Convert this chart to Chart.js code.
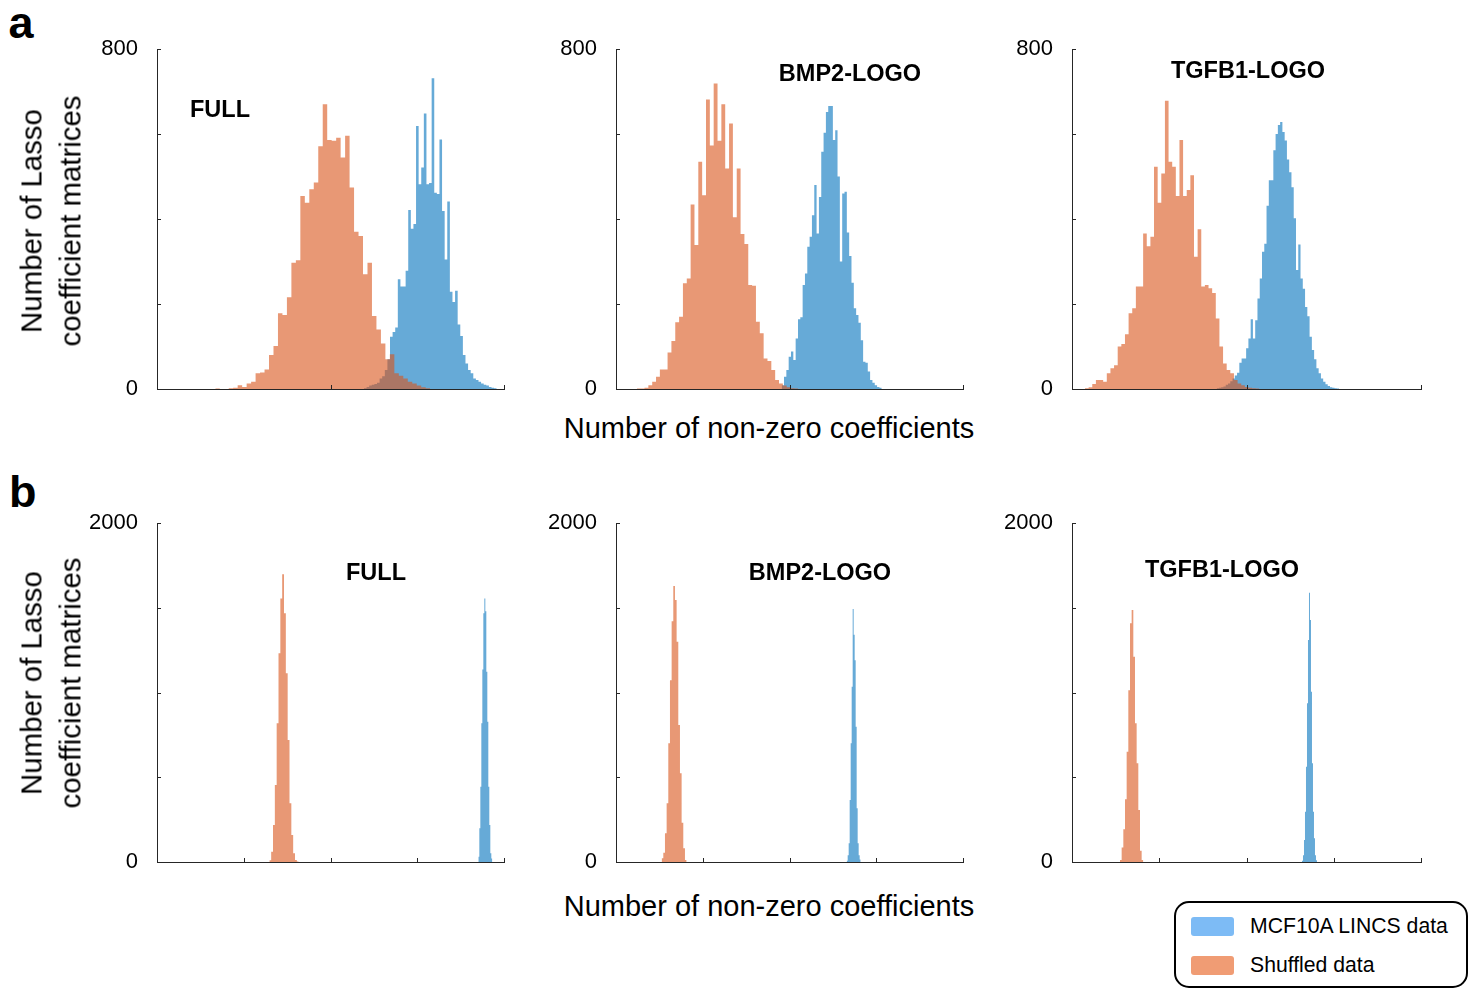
<!DOCTYPE html>
<html>
<head>
<meta charset="utf-8">
<title>Number of non-zero Lasso coefficients</title>
<script src="https://cdn.jsdelivr.net/npm/chart.js@4.4.1/dist/chart.umd.min.js"></script>
<style>
  html, body { margin: 0; padding: 0; background: #fff; }
  #fig {
    position: relative; width: 1473px; height: 989px; overflow: hidden;
    font-family: Arial, "Liberation Sans", Helvetica, sans-serif; color: #000;
  }
  #fig canvas { position: absolute; }
  .txt { position: absolute; white-space: nowrap; line-height: 1; transform: translate(-50%, -50%); }
  .letter { position: absolute; font-weight: bold; font-size: 45px; line-height: 1; }
  .title { font-weight: bold; font-size: 23.5px; }
  .xlab { font-size: 29px; }
  .ylab { font-size: 29.4px; line-height: 38.5px; text-align: center; transform: translate(-50%, -50%) rotate(-90deg); }
  #legend {
    position: absolute; left: 1174px; top: 901px; width: 290px; height: 83px;
    border: 2px solid #000; border-radius: 15px; background: #fff;
  }
  .lg-row { position: absolute; left: 15px; height: 19px; }
  .lg-swatch { position: absolute; left: 0; top: 0; width: 43px; height: 19px; border-radius: 3px; }
  .lg-text { position: absolute; left: 59px; top: 9px; font-size: 21.2px; line-height: 1; white-space: nowrap; transform: translateY(-50%); }
</style>
</head>
<body>
<div id="fig"></div>
<script>
// ---------- DATA ----------
const SERIES = ["MCF10A LINCS data", "Shuffled data"];
const PANELS = ["FULL", "BMP2-LOGO", "TGFB1-LOGO"];

// axes (no x tick labels in the original figure)
const X_TICKS_A = [0, 100, 200];
const X_TICKS_B = [0, 100, 200, 300, 400];
const Y_TICKS_A = [0, 200, 400, 600, 800];
const Y_LABELS_A = ["0", "", "", "", "800"];
const Y_TICKS_B = [0, 500, 1000, 1500, 2000];
const Y_LABELS_B = ["0", "", "", "", "2000"];

// histograms: [first bin edge, bin width] + counts per bin
// row a
const A_FULL_LINCS_BINS = [119.3, 1.5];
const A_FULL_LINCS = [2, 5, 8, 10, 12, 15, 25, 30, 45, 70, 123, 134, 145, 258, 241, 241, 278, 421, 377, 388,
  619, 482, 521, 648, 482, 485, 731, 462, 459, 587, 419, 305, 441, 229, 205, 231, 152, 125, 80, 60,
  45, 37, 25, 21, 17, 13, 10, 8, 5, 3, 2];
const A_FULL_SHUF_BINS = [33.6, 2.58];
const A_FULL_SHUF = [1, 0, 0, 2, 3, 9, 5, 13, 17, 37, 39, 46, 80, 101, 178, 174, 216, 297, 303, 454,
  438, 470, 486, 571, 670, 586, 584, 591, 545, 596, 474, 370, 360, 270, 297, 172, 140, 107, 70, 82,
  37, 31, 25, 17, 13, 8, 4, 2];

const A_BMP2_LINCS_BINS = [95.5, 1.341];
const A_BMP2_LINCS = [9, 29, 45, 76, 88, 68, 119, 164, 169, 245, 272, 335, 358, 409, 480, 366, 452, 558, 603, 652,
  666, 666, 586, 609, 500, 300, 460, 464, 368, 313, 250, 190, 174, 156, 115, 64, 62, 41, 21, 15, 9, 5, 3];
const A_BMP2_SHUF_BINS = [12.0, 2.215];
const A_BMP2_SHUF = [1, 1, 3, 9, 17, 29, 46, 46, 86, 113, 157, 170, 249, 260, 434, 339, 535, 456, 681, 573,
  719, 584, 670, 519, 625, 404, 519, 365, 341, 245, 243, 158, 131, 72, 66, 45, 21, 13, 8, 4, 2, 1];

const A_TGFB1_LINCS_BINS = [82.9, 1.299];
const A_TGFB1_LINCS = [2, 3, 4, 6, 10, 13, 18, 25, 32, 38, 62, 72, 72, 96, 119, 164, 119, 162, 213, 260,
  323, 342, 431, 491, 491, 562, 600, 621, 628, 605, 585, 540, 510, 475, 402, 280, 340, 260, 236, 193,
  171, 123, 92, 70, 49, 37, 25, 17, 11, 7, 4, 3, 2, 1];
const A_TGFB1_SHUF_BINS = [7.45, 2.082];
const A_TGFB1_SHUF = [2, 4, 12, 21, 21, 17, 37, 49, 56, 100, 106, 129, 178, 190, 241, 241, 366, 336, 358, 523,
  438, 507, 678, 535, 523, 454, 586, 454, 468, 503, 311, 376, 241, 245, 237, 226, 166, 100, 60, 45,
  37, 21, 13, 9, 5, 3, 2, 1];

// row b
const B_FULL_LINCS_BINS = [370.4, 1.153];
const B_FULL_LINCS = [31, 199, 444, 818, 1136, 1467, 1555, 1480, 1123, 828, 444, 218, 51, 20];
const B_FULL_SHUF_BINS = [129.5, 2.113];
const B_FULL_SHUF = [10, 60, 218, 454, 818, 1231, 1555, 1697, 1467, 1113, 720, 346, 159, 51, 12, 3];

const B_BMP2_LINCS_BINS = [265.9, 1.153];
const B_BMP2_LINCS = [8, 40, 110, 366, 700, 1034, 1492, 1340, 1191, 798, 317, 110, 40, 15];
const B_BMP2_SHUF_BINS = [52.6, 1.921];
const B_BMP2_SHUF = [22, 55, 169, 346, 700, 1073, 1421, 1628, 1545, 1300, 808, 523, 232, 81, 12];

const B_TGFB1_LINCS_BINS = [263.6, 1.146];
const B_TGFB1_LINCS = [8, 40, 130, 297, 562, 936, 1309, 1589, 1427, 1005, 582, 297, 140, 40, 10];
const B_TGFB1_SHUF_BINS = [55.0, 1.91];
const B_TGFB1_SHUF = [12, 86, 193, 370, 651, 1014, 1408, 1486, 1211, 818, 582, 307, 67, 12];

// ---------- STYLE / LAYOUT ----------
const FONT = 'Arial, "Liberation Sans", Helvetica, sans-serif';
const AXIS_COLOR = "#262626";
const LINCS_FILL = "rgba(0, 114, 189, 0.6)";   // matlab blue, FaceAlpha 0.6
const SHUF_FILL = "rgba(217, 83, 25, 0.6)";    // matlab orange, FaceAlpha 0.6
const LEGEND_COLORS = ["#7dbbf5", "#f09c74"];

const PAD_L = 80, PAD_T = 20, PAD_R = 14, PAD_B = 20;
const COLS = [{ left: 157, width: 347 }, { left: 616, width: 347 }, { left: 1072, width: 349 }];
const ROWS = [
  { top: 49, height: 340, xTicks: X_TICKS_A, yTicks: Y_TICKS_A, yLabels: Y_LABELS_A },
  { top: 523, height: 339, xTicks: X_TICKS_B, yTicks: Y_TICKS_B, yLabels: Y_LABELS_B },
];
const HISTS = [
  [[A_FULL_LINCS_BINS, A_FULL_LINCS, A_FULL_SHUF_BINS, A_FULL_SHUF],
   [A_BMP2_LINCS_BINS, A_BMP2_LINCS, A_BMP2_SHUF_BINS, A_BMP2_SHUF],
   [A_TGFB1_LINCS_BINS, A_TGFB1_LINCS, A_TGFB1_SHUF_BINS, A_TGFB1_SHUF]],
  [[B_FULL_LINCS_BINS, B_FULL_LINCS, B_FULL_SHUF_BINS, B_FULL_SHUF],
   [B_BMP2_LINCS_BINS, B_BMP2_LINCS, B_BMP2_SHUF_BINS, B_BMP2_SHUF],
   [B_TGFB1_LINCS_BINS, B_TGFB1_LINCS, B_TGFB1_SHUF_BINS, B_TGFB1_SHUF]],
];
// panel title centres (px)
const TITLE_POS = [
  [[220, 110], [850, 74], [1248, 71]],
  [[376, 573], [820, 573], [1222, 570]],
];

const fig = document.getElementById("fig");

// ---------- HELPERS ----------
function addText(cls, text, cx, cy) {
  const d = document.createElement("div");
  d.className = "txt " + cls;
  d.innerHTML = text;
  d.style.left = cx + "px";
  d.style.top = cy + "px";
  fig.appendChild(d);
  return d;
}

// histogram as a stepped outline: one point at each bin's left edge
function histPoints(bins, counts) {
  const [first, width] = bins;
  const pts = [{ x: first, y: 0 }];
  counts.forEach((c, i) => pts.push({ x: first + i * width, y: c }));
  pts.push({ x: first + counts.length * width, y: 0 });
  return pts;
}

// matlab style ticks pointing into the axes
const innerTicks = {
  id: "innerTicks",
  afterDraw(chart) {
    const { ctx, chartArea, scales } = chart;
    ctx.save();
    ctx.strokeStyle = AXIS_COLOR;
    ctx.lineWidth = 1;
    ctx.beginPath();
    scales.y.ticks.forEach((t) => {
      const y = Math.round(scales.y.getPixelForValue(t.value)) + 0.5;
      ctx.moveTo(chartArea.left, y);
      ctx.lineTo(chartArea.left + 4, y);
    });
    scales.x.ticks.forEach((t) => {
      const x = Math.round(scales.x.getPixelForValue(t.value)) + 0.5;
      ctx.moveTo(x, chartArea.bottom);
      ctx.lineTo(x, chartArea.bottom - 4);
    });
    ctx.stroke();
    ctx.restore();
  },
};

function makePanel(row, col, hist) {
  const canvas = document.createElement("canvas");
  canvas.width = PAD_L + col.width + PAD_R;
  canvas.height = PAD_T + row.height + PAD_B;
  canvas.style.left = (col.left - PAD_L) + "px";
  canvas.style.top = (row.top - PAD_T) + "px";
  fig.appendChild(canvas);

  const [lincsBins, lincs, shufBins, shuf] = hist;
  const xTicks = row.xTicks, yTicks = row.yTicks;

  new Chart(canvas, {
    type: "line",
    data: {
      datasets: [
        {
          label: SERIES[1], data: histPoints(shufBins, shuf), order: 0,
          stepped: true, fill: "origin", backgroundColor: SHUF_FILL,
          borderColor: "rgba(0,0,0,0)", borderWidth: 0, pointRadius: 0,
        },
        {
          label: SERIES[0], data: histPoints(lincsBins, lincs), order: 1,
          stepped: true, fill: "origin", backgroundColor: LINCS_FILL,
          borderColor: "rgba(0,0,0,0)", borderWidth: 0, pointRadius: 0,
        },
      ],
    },
    options: {
      responsive: false,
      animation: false,
      layout: { padding: { left: 0, top: PAD_T, right: PAD_R, bottom: 0 } },
      plugins: { legend: { display: false }, tooltip: { enabled: false } },
      scales: {
        x: {
          type: "linear",
          min: xTicks[0], max: xTicks[xTicks.length - 1],
          z: 1,
          afterBuildTicks: (s) => { s.ticks = xTicks.map((v) => ({ value: v })); },
          afterFit: (s) => { s.height = PAD_B; s.paddingLeft = 0; s.paddingRight = 0; },
          ticks: { display: false },
          grid: { display: false, drawTicks: false },
          border: { display: true, color: AXIS_COLOR, width: 1 },
        },
        y: {
          min: yTicks[0], max: yTicks[yTicks.length - 1],
          z: 1,
          afterBuildTicks: (s) => { s.ticks = yTicks.map((v) => ({ value: v })); },
          // fixed axis box so the plot area lands where the original one is
          afterFit: (s) => { s.width = PAD_L; s.paddingTop = 0; s.paddingBottom = 0; },
          ticks: {
            autoSkip: false,
            padding: 19,
            color: "#000",
            font: { family: FONT, size: 22 },
            callback: (v) => row.yLabels[yTicks.indexOf(v)],
          },
          grid: { display: false, drawTicks: false },
          border: { display: true, color: AXIS_COLOR, width: 1 },
        },
      },
    },
    plugins: [innerTicks],
  });
}

// ---------- BUILD ----------
ROWS.forEach((row, r) => {
  COLS.forEach((col, c) => {
    makePanel(row, col, HISTS[r][c]);
    addText("title", PANELS[c], TITLE_POS[r][c][0], TITLE_POS[r][c][1]);
  });
});

// panel letters
["a", "b"].forEach((t, i) => {
  const d = document.createElement("div");
  d.className = "letter";
  d.textContent = t;
  d.style.left = (i === 0 ? 8.5 : 9) + "px";
  d.style.top = (i === 0 ? 0 : 469) + "px";
  fig.appendChild(d);
});

// axis titles
addText("xlab", "Number of non-zero coefficients", 769, 427.5);
addText("xlab", "Number of non-zero coefficients", 769, 906);
addText("ylab", "Number of Lasso<br>coefficient matrices", 50.5, 221);
addText("ylab", "Number of Lasso<br>coefficient matrices", 50.5, 683);

// legend
const legend = document.createElement("div");
legend.id = "legend";
SERIES.forEach((name, i) => {
  const rowEl = document.createElement("div");
  rowEl.className = "lg-row";
  rowEl.style.top = (14 + i * 38.5) + "px";
  rowEl.innerHTML = `<div class="lg-swatch" style="background:${LEGEND_COLORS[i]}"></div>` +
    `<div class="lg-text">${name}</div>`;
  legend.appendChild(rowEl);
});
fig.appendChild(legend);
</script>
</body>
</html>
